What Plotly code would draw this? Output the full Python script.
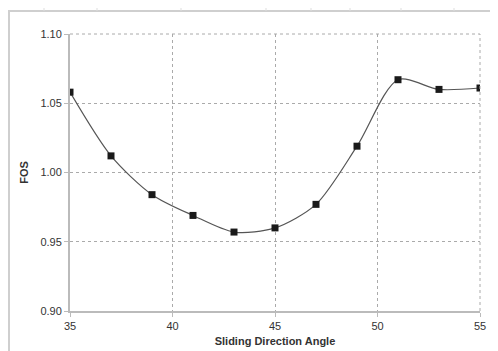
import plotly.graph_objects as go

angles = [35, 37, 39, 41, 43, 45, 47, 49, 51, 53, 55]
fos = [1.058, 1.012, 0.984, 0.969, 0.957, 0.960, 0.977, 1.019, 1.067, 1.060, 1.061]

W, H = 490, 343
L, R, T, B = 62, 18, 26, 40
pw, ph = W - L - R, H - T - B

fig = go.Figure()
fig.add_trace(go.Scatter(
    x=angles, y=fos, mode="lines+markers",
    line=dict(color="#555555", width=1.2, shape="spline", smoothing=0.8),
    marker=dict(symbol="square", size=7, color="#1a1a1a"),
    showlegend=False,
))

def px_x(v):
    return (v - L) / pw

def px_y(v):
    return (H - B - v) / ph

frame = dict(color="#cfcfcf", width=2)
# decorative sheet frame lines
fig.add_shape(type="line", xref="paper", yref="paper", x0=px_x(0), x1=px_x(W), y0=px_y(3), y1=px_y(3), line=frame)
fig.add_shape(type="line", xref="paper", yref="paper", x0=px_x(1), x1=px_x(1), y0=px_y(H), y1=px_y(3), line=frame)
for k in range(1, 21):
    yy = 3 + 16.7 * k
    if yy < H:
        fig.add_shape(type="line", xref="paper", yref="paper", x0=px_x(-3), x1=px_x(0), y0=px_y(yy), y1=px_y(yy),
                      line=dict(color="#cfcfcf", width=1))
for xx in [36, 89, 173, 258, 303, 342, 393, 446]:
    fig.add_shape(type="line", xref="paper", yref="paper", x0=px_x(xx), x1=px_x(xx), y0=px_y(3), y1=px_y(0),
                  line=dict(color="#dddddd", width=1))

fig.update_layout(
    width=W, height=H,
    margin=dict(l=L, r=R, t=T, b=B),
    paper_bgcolor="white", plot_bgcolor="white",
    font=dict(family="Liberation Sans, Arial", size=11, color="#333333"),
    xaxis=dict(
        range=[35, 55], tickvals=[35, 40, 45, 50, 55], ticktext=["35", "40", "45", "50", "55"],
        showgrid=True, gridcolor="#aaaaaa", griddash="dot", gridwidth=1,
        showline=True, linecolor="#bbbbbb", linewidth=2,
        ticks="outside", ticklen=4, tickcolor="#bbbbbb",
        zeroline=False, automargin=False,
        title=dict(text="<b>Sliding Direction Angle</b>", font=dict(size=11, color="#333333"), standoff=6),
    ),
    yaxis=dict(
        range=[0.90, 1.10], tickvals=[0.90, 0.95, 1.00, 1.05, 1.10],
        ticktext=["0.90", "0.95", "1.00", "1.05", "1.10"],
        showgrid=True, gridcolor="#aaaaaa", griddash="dot", gridwidth=1,
        showline=True, linecolor="#bbbbbb", linewidth=2,
        ticks="outside", ticklen=4, tickcolor="#bbbbbb",
        zeroline=False, automargin=False,
        title=dict(text="<b>FOS</b>", font=dict(size=11, color="#333333"), standoff=10),
    ),
)
fig.add_shape(type="line", xref="paper", yref="paper", x0=0, x1=1, y0=1, y1=1,
              line=dict(color="#aaaaaa", width=1, dash="dot"))
fig.add_shape(type="line", xref="paper", yref="paper", x0=1, x1=1, y0=0, y1=1,
              line=dict(color="#aaaaaa", width=1, dash="dot"))

fig.write_html("out.html")
